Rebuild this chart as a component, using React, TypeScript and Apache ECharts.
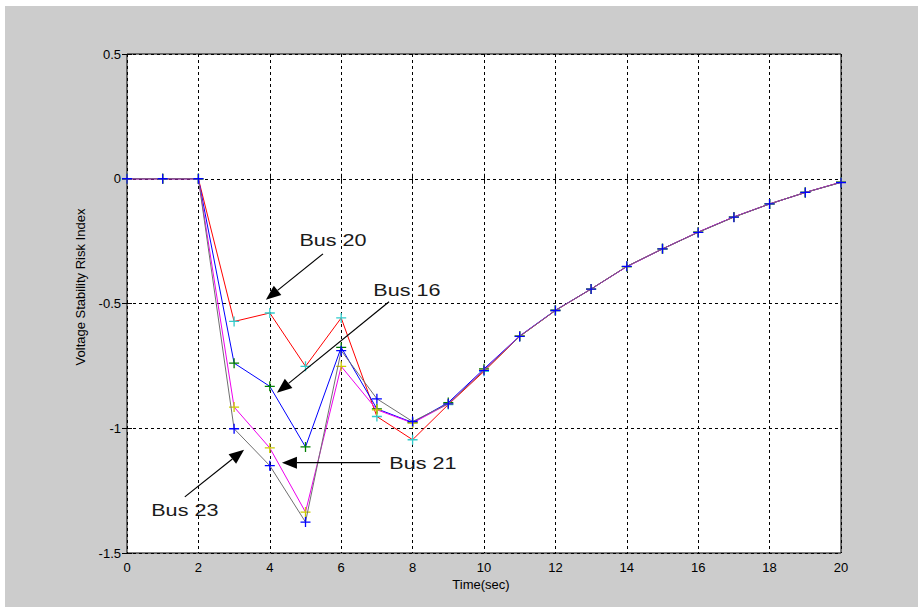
import React, { useEffect, useRef } from "react";
import * as echarts from "echarts";

const times = [0, 1, 2, 3, 4, 5, 6, 7, 8, 9, 10, 11, 12, 13, 14, 15, 16, 17, 18, 19, 20];

const bus20 = [0, 0, 0, -0.572, -0.538, -0.752, -0.558, -0.953, -1.046, -0.905, -0.772, -0.632, -0.528, -0.442, -0.352, -0.281, -0.214, -0.153, -0.101, -0.055, -0.014];
const bus16 = [0, 0, 0, -0.739, -0.832, -1.075, -0.676, -0.922, -0.977, -0.897, -0.762, -0.630, -0.527, -0.442, -0.352, -0.281, -0.214, -0.153, -0.101, -0.055, -0.014];
const bus21 = [0, 0, 0, -0.915, -1.079, -1.336, -0.752, -0.926, -0.979, -0.902, -0.766, -0.631, -0.528, -0.442, -0.352, -0.281, -0.214, -0.153, -0.101, -0.055, -0.014];
const bus23 = [0, 0, 0, -1.002, -1.150, -1.376, -0.689, -0.882, -0.973, -0.902, -0.768, -0.632, -0.528, -0.442, -0.351, -0.281, -0.215, -0.154, -0.101, -0.055, -0.015];

const seriesDefs = [
  { name: "Bus 20", values: bus20, line: "#ff0000", marker: "#33cccc" },
  { name: "Bus 16", values: bus16, line: "#0000ff", marker: "#008000" },
  { name: "Bus 21", values: bus21, line: "#ee00ee", marker: "#cccc00" },
  { name: "Bus 23", values: bus23, line: "#707070", marker: "#0000ff" },
];

// annotation anchors in data coordinates: label centre, arrow tail, arrow tip
const annotations = [
  { label: "Bus 20", text: [5.77, -0.249], tail: [5.49, -0.301], tip: [3.89, -0.485] },
  { label: "Bus 16", text: [7.84, -0.449], tail: [7.34, -0.493], tip: [4.2, -0.858] },
  { label: "Bus 21", text: [8.29, -1.142], tail: [7.09, -1.138], tip: [4.34, -1.138] },
  { label: "Bus 23", text: [1.62, -1.331], tail: [1.62, -1.275], tip: [3.28, -1.086] },
];

const PLUS = "path://M5,0L5,10M0,5L10,5";

export default function App() {
  const ref = useRef<HTMLDivElement>(null);

  useEffect(() => {
    if (!ref.current) return;
    const chart = echarts.init(ref.current, undefined, { renderer: "svg" });

    const axisCommon = {
      type: "value" as const,
      axisLine: { show: false },
      axisTick: { show: true, inside: true, length: 5, lineStyle: { color: "#000", width: 1 } },
    };

    chart.setOption({
      animation: false,
      backgroundColor: "transparent",
      grid: {
        left: 127,
        top: 54,
        width: 714,
        height: 499,
        show: true,
        backgroundColor: "#ffffff",
        borderColor: "#000000",
        borderWidth: 1,
      },
      xAxis: [
        {
          ...axisCommon,
          min: 0,
          max: 20,
          interval: 2,
          position: "bottom",
          axisLabel: { color: "#000", fontSize: 13, margin: 8, fontFamily: "Liberation Sans, Arial, sans-serif" },
          splitLine: { show: true, lineStyle: { color: "#000", width: 1, type: [3, 3] } },
        },
        {
          ...axisCommon,
          min: 0,
          max: 20,
          interval: 2,
          position: "top",
          axisLabel: { show: false },
          splitLine: { show: false },
        },
      ],
      yAxis: [
        {
          ...axisCommon,
          min: -1.5,
          max: 0.5,
          interval: 0.5,
          position: "left",
          axisLabel: { color: "#000", fontSize: 13, margin: 6, fontFamily: "Liberation Sans, Arial, sans-serif" },
          splitLine: { show: true, lineStyle: { color: "#000", width: 1, type: [3, 3] } },
        },
        {
          ...axisCommon,
          min: -1.5,
          max: 0.5,
          interval: 0.5,
          position: "right",
          axisLabel: { show: false },
          splitLine: { show: false },
        },
      ],
      series: seriesDefs.map((s, i) => ({
        type: "line",
        name: s.name,
        xAxisIndex: 0,
        yAxisIndex: 0,
        data: times.map((t, k) => [t, s.values[k]]),
        symbol: PLUS,
        symbolSize: 10,
        showSymbol: true,
        showAllSymbol: true,
        z: 2 + i,
        lineStyle: { color: s.line, width: 1 },
        itemStyle: { color: s.marker, borderColor: s.marker, borderWidth: 1.3 },
        emphasis: { disabled: true },
      })),
    });

    const px = (p: number[]) => chart.convertToPixel({ gridIndex: 0 }, p) as number[];
    const elements: any[] = [];
    annotations.forEach((a) => {
      const tc = px(a.text);
      const tail = px(a.tail);
      const tip = px(a.tip);
      const dx = tip[0] - tail[0];
      const dy = tip[1] - tail[1];
      const len = Math.sqrt(dx * dx + dy * dy);
      const ux = dx / len;
      const uy = dy / len;
      const headLen = 15;
      const headHalf = 6;
      const bx = tip[0] - ux * headLen;
      const by = tip[1] - uy * headLen;
      elements.push({
        type: "text",
        x: tc[0],
        y: tc[1],
        scaleX: 1.35,
        z: 100,
        style: {
          text: a.label,
          x: 0,
          y: 0,
          align: "center",
          verticalAlign: "middle",
          fontSize: 16,
          fontFamily: "Liberation Sans, Arial, sans-serif",
          fill: "#1a1a1a",
        },
      });
      elements.push({
        type: "line",
        z: 100,
        shape: { x1: tail[0], y1: tail[1], x2: bx, y2: by },
        style: { stroke: "#000", lineWidth: 1.2 },
      });
      elements.push({
        type: "polygon",
        z: 100,
        shape: {
          points: [
            [tip[0], tip[1]],
            [bx - uy * headHalf, by + ux * headHalf],
            [bx + uy * headHalf, by - ux * headHalf],
          ],
        },
        style: { fill: "#000" },
      });
    });

    elements.push({
      type: "text",
      x: 80,
      y: 287,
      rotation: Math.PI / 2,
      z: 100,
      style: {
        text: "Voltage Stability Risk Index",
        x: 0,
        y: 0,
        align: "center",
        verticalAlign: "middle",
        fontSize: 13,
        fontFamily: "Liberation Sans, Arial, sans-serif",
        fill: "#000",
      },
    });
    elements.push({
      type: "text",
      x: 481,
      y: 584,
      z: 100,
      style: {
        text: "Time(sec)",
        x: 0,
        y: 0,
        align: "center",
        verticalAlign: "middle",
        fontSize: 13,
        fontFamily: "Liberation Sans, Arial, sans-serif",
        fill: "#000",
      },
    });

    chart.setOption({ graphic: { elements } });

    return () => {
      chart.dispose();
    };
  }, []);

  return (
    <div style={{ position: "fixed", left: 0, top: 0, width: 918, height: 615, background: "#ffffff" }}>
      <div style={{ position: "absolute", left: 5, top: 6, width: 913, height: 601, background: "#cccccc" }} />
      <div ref={ref} style={{ position: "absolute", left: 0, top: 0, width: 918, height: 615 }} />
    </div>
  );
}
